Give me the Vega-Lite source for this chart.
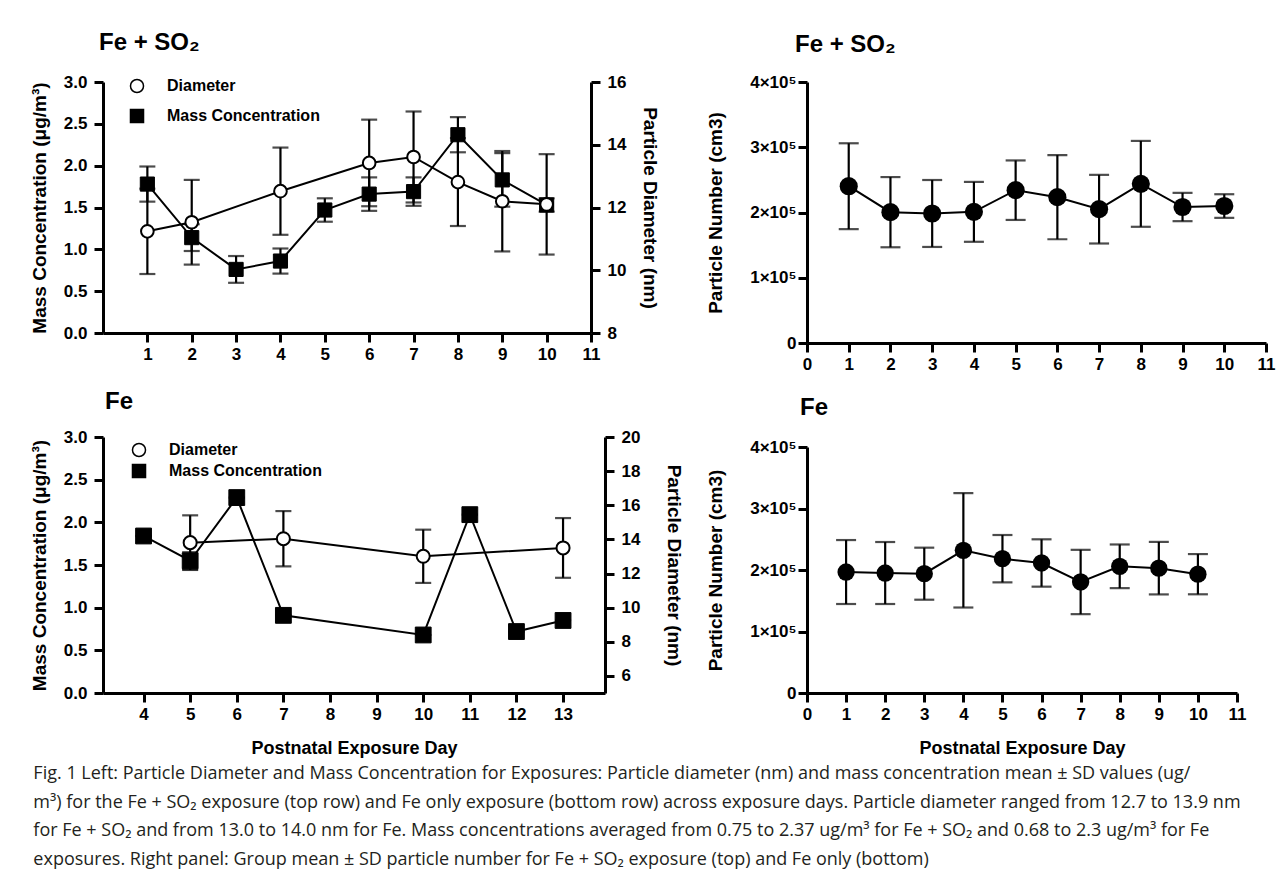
{
  "$schema": "https://vega.github.io/schema/vega-lite/v6.json",
  "background": "white",
  "padding": {"left": 30, "top": 31, "right": 5, "bottom": 0},
  "config": {
    "view": {"stroke": null},
    "axis": {
      "domainColor": "black", "domainWidth": 3, "tickColor": "black", "tickWidth": 3, "tickSize": 9,
      "labelFont": "Liberation Sans", "labelFontSize": 17, "labelFontWeight": "bold", "labelColor": "black",
      "labelPadding": 7, "labelFlush": false, "labelOverlap": false, "labelBound": false,
      "titleFont": "Liberation Sans", "titleFontSize": 19, "titleFontWeight": "bold", "titleColor": "black",
      "titlePadding": 14, "grid": false
    },
    "axisX": {"labelPadding": 4, "titlePadding": 17, "titleFontSize": 18}
  },
  "datasets": {
    "tl": [
      {"day": 1, "series": "Mass Concentration", "value": 1.78, "sd": 0.21},
      {"day": 2, "series": "Mass Concentration", "value": 1.14, "sd": 0.16},
      {"day": 3, "series": "Mass Concentration", "value": 0.76, "sd": 0.16},
      {"day": 4, "series": "Mass Concentration", "value": 0.86, "sd": 0.15},
      {"day": 5, "series": "Mass Concentration", "value": 1.47, "sd": 0.14},
      {"day": 6, "series": "Mass Concentration", "value": 1.66, "sd": 0.2},
      {"day": 7, "series": "Mass Concentration", "value": 1.69, "sd": 0.17},
      {"day": 8, "series": "Mass Concentration", "value": 2.37, "sd": 0.21},
      {"day": 9, "series": "Mass Concentration", "value": 1.83, "sd": 0.32},
      {"day": 10, "series": "Mass Concentration", "value": 1.53, "sd": 0.08},
      {"day": 1, "series": "Diameter", "value": 11.24, "sd": 1.36},
      {"day": 2, "series": "Diameter", "value": 11.53, "sd": 1.35},
      {"day": 4, "series": "Diameter", "value": 12.52, "sd": 1.39},
      {"day": 6, "series": "Diameter", "value": 13.42, "sd": 1.38},
      {"day": 7, "series": "Diameter", "value": 13.61, "sd": 1.45},
      {"day": 8, "series": "Diameter", "value": 12.81, "sd": 1.4},
      {"day": 9, "series": "Diameter", "value": 12.2, "sd": 1.6},
      {"day": 10, "series": "Diameter", "value": 12.1, "sd": 1.6}
    ],
    "bl": [
      {"day": 4, "series": "Mass Concentration", "value": 1.84, "sd": 0},
      {"day": 5, "series": "Mass Concentration", "value": 1.55, "sd": 0.1},
      {"day": 6, "series": "Mass Concentration", "value": 2.29, "sd": 0},
      {"day": 7, "series": "Mass Concentration", "value": 0.91, "sd": 0},
      {"day": 10, "series": "Mass Concentration", "value": 0.68, "sd": 0},
      {"day": 11, "series": "Mass Concentration", "value": 2.09, "sd": 0},
      {"day": 12, "series": "Mass Concentration", "value": 0.72, "sd": 0},
      {"day": 13, "series": "Mass Concentration", "value": 0.85, "sd": 0},
      {"day": 5, "series": "Diameter", "value": 13.81, "sd": 1.6},
      {"day": 7, "series": "Diameter", "value": 14.04, "sd": 1.62},
      {"day": 10, "series": "Diameter", "value": 13.01, "sd": 1.56},
      {"day": 13, "series": "Diameter", "value": 13.5, "sd": 1.75}
    ],
    "tr": [
      {"day": 1, "value": 240300, "sd": 65800},
      {"day": 2, "value": 200500, "sd": 53800},
      {"day": 3, "value": 198500, "sd": 51300},
      {"day": 4, "value": 201000, "sd": 45900},
      {"day": 5, "value": 234200, "sd": 45600},
      {"day": 6, "value": 223500, "sd": 64500},
      {"day": 7, "value": 205100, "sd": 52600},
      {"day": 8, "value": 243900, "sd": 65800},
      {"day": 9, "value": 208400, "sd": 21700},
      {"day": 10, "value": 209900, "sd": 18100}
    ],
    "br": [
      {"day": 1, "value": 196700, "sd": 52000},
      {"day": 2, "value": 195100, "sd": 50400},
      {"day": 3, "value": 194000, "sd": 42300},
      {"day": 4, "value": 232000, "sd": 93000},
      {"day": 5, "value": 218400, "sd": 38500},
      {"day": 6, "value": 211400, "sd": 38500},
      {"day": 7, "value": 180500, "sd": 52300},
      {"day": 8, "value": 206000, "sd": 35500},
      {"day": 9, "value": 203000, "sd": 42700},
      {"day": 10, "value": 193200, "sd": 32700}
    ]
  },
  "title": {
    "text": [
      "Fig. 1  Left: Particle Diameter and Mass Concentration for Exposures: Particle diameter (nm) and mass concentration mean ± SD values (ug/",
      "m³) for the Fe + SO₂ exposure (top row) and Fe only exposure (bottom row) across exposure days. Particle diameter ranged from 12.7 to 13.9 nm",
      "for Fe + SO₂ and from 13.0 to 14.0  nm for Fe. Mass concentrations averaged from 0.75 to 2.37 ug/m³ for Fe + SO₂ and 0.68 to 2.3 ug/m³ for Fe",
      "exposures. Right panel: Group mean ± SD particle number for Fe + SO₂ exposure (top) and Fe only (bottom)"
    ],
    "orient": "bottom", "anchor": "start", "frame": "bounds", "dx": 3, "offset": 8,
    "font": "Open Sans", "fontSize": 18, "fontWeight": "normal", "color": "#231f20", "lineHeight": 28.5
  },
  "spacing": 23,
  "hconcat": [
    {
      "spacing": 28,
      "resolve": {"scale": {"shape": "independent", "fill": "independent"}, "legend": {"shape": "independent", "fill": "independent"}},
      "vconcat": [
        {
          "width": 488, "height": 251,
          "title": {"text": "Fe + SO₂", "anchor": "start", "frame": "group", "dx": -4, "offset": 18, "font": "Liberation Sans", "fontSize": 24, "fontWeight": "bold", "color": "black"},
          "data": {"name": "tl"},
          "encoding": {
            "x": {"field": "day", "type": "quantitative", "scale": {"domain": [0, 11], "nice": false, "zero": false},
                  "axis": {"values": [1, 2, 3, 4, 5, 6, 7, 8, 9, 10, 11], "title": null}}
          },
          "layer": [
            {
              "transform": [{"filter": "datum.series === 'Mass Concentration'"}],
              "encoding": {
                "y": {"field": "value", "type": "quantitative", "scale": {"domain": [0, 3], "nice": false},
                      "axis": {"orient": "left", "values": [0, 0.5, 1, 1.5, 2, 2.5, 3], "format": ".1f", "title": "Mass Concentration  (μg/m³)"}}
              },
              "layer": [
                {"mark": {"type": "line", "color": "black", "strokeWidth": 2}},
                {"mark": {"type": "errorbar", "color": "black", "thickness": 2.2, "ticks": {"size": 16, "thickness": 2.2}}, "encoding": {"yError": {"field": "sd"}}},
                {"mark": {"type": "point", "filled": true, "opacity": 1, "size": 200, "stroke": "black", "strokeWidth": 1},
                 "encoding": {
                   "shape": {"field": "series", "type": "nominal", "scale": {"domain": ["Diameter", "Mass Concentration"], "range": ["circle", "square"]},
                             "legend": {"title": null, "orient": "none", "legendX": 26, "legendY": -4, "rowPadding": 10, "padding": 0, "symbolSize": 170, "labelFont": "Liberation Sans", "labelFontSize": 16, "labelFontWeight": "bold", "labelColor": "black", "labelOffset": 22,
                                        "encode": {"symbols": {"update": {"stroke": {"value": "black"}, "strokeWidth": {"value": 2}}}}}},
                   "fill": {"field": "series", "type": "nominal", "scale": {"domain": ["Diameter", "Mass Concentration"], "range": ["white", "black"]},
                             "legend": {"title": null, "orient": "none", "legendX": 26, "legendY": -4, "rowPadding": 10, "padding": 0, "symbolSize": 170, "labelFont": "Liberation Sans", "labelFontSize": 16, "labelFontWeight": "bold", "labelColor": "black", "labelOffset": 22,
                                        "encode": {"symbols": {"update": {"stroke": {"value": "black"}, "strokeWidth": {"value": 2}}}}}}
                 }}
              ]
            },
            {
              "transform": [{"filter": "datum.series === 'Diameter'"}],
              "encoding": {
                "y": {"field": "value", "type": "quantitative", "scale": {"domain": [8, 16], "nice": false, "zero": false},
                      "axis": {"orient": "right", "values": [8, 10, 12, 14, 16], "title": "Particle Diameter  (nm)"}}
              },
              "layer": [
                {"mark": {"type": "line", "color": "black", "strokeWidth": 2}},
                {"mark": {"type": "errorbar", "color": "black", "thickness": 2.2, "ticks": {"size": 16, "thickness": 2.2}}, "encoding": {"yError": {"field": "sd"}}},
                {"mark": {"type": "point", "filled": true, "opacity": 1, "size": 160, "stroke": "black", "strokeWidth": 2},
                 "encoding": {
                   "shape": {"field": "series", "type": "nominal", "scale": {"domain": ["Diameter", "Mass Concentration"], "range": ["circle", "square"]}},
                   "fill": {"field": "series", "type": "nominal", "scale": {"domain": ["Diameter", "Mass Concentration"], "range": ["white", "black"]}}
                 }}
              ]
            }
          ],
          "resolve": {"scale": {"y": "independent"}}
        },
        {
          "width": 502, "height": 256,
          "title": {"text": "Fe", "anchor": "start", "frame": "group", "dx": 2, "offset": 14, "font": "Liberation Sans", "fontSize": 24, "fontWeight": "bold", "color": "black"},
          "data": {"name": "bl"},
          "encoding": {
            "x": {"field": "day", "type": "quantitative", "scale": {"domain": [3.13, 13.9], "nice": false, "zero": false},
                  "axis": {"values": [4, 5, 6, 7, 8, 9, 10, 11, 12, 13], "title": "Postnatal Exposure Day"}}
          },
          "layer": [
            {
              "transform": [{"filter": "datum.series === 'Diameter'"}],
              "encoding": {
                "y": {"field": "value", "type": "quantitative", "scale": {"domain": [5, 20], "nice": false, "zero": false},
                      "axis": {"orient": "right", "values": [6, 8, 10, 12, 14, 16, 18, 20], "titlePadding": 24, "title": "Particle Diameter  (nm)"}}
              },
              "layer": [
                {"mark": {"type": "line", "color": "black", "strokeWidth": 2}},
                {"mark": {"type": "errorbar", "color": "black", "thickness": 2.2, "ticks": {"size": 16, "thickness": 2.2}}, "encoding": {"yError": {"field": "sd"}}},
                {"mark": {"type": "point", "filled": true, "opacity": 1, "size": 170, "stroke": "black", "strokeWidth": 2},
                 "encoding": {
                   "shape": {"field": "series", "type": "nominal", "scale": {"domain": ["Diameter", "Mass Concentration"], "range": ["circle", "square"]},
                             "legend": {"title": null, "orient": "none", "legendX": 28, "legendY": 5, "rowPadding": 1, "padding": 0, "symbolSize": 170, "labelFont": "Liberation Sans", "labelFontSize": 16, "labelFontWeight": "bold", "labelColor": "black", "labelOffset": 22,
                                        "encode": {"symbols": {"update": {"stroke": {"value": "black"}, "strokeWidth": {"value": 2}}}}}},
                   "fill": {"field": "series", "type": "nominal", "scale": {"domain": ["Diameter", "Mass Concentration"], "range": ["white", "black"]},
                             "legend": {"title": null, "orient": "none", "legendX": 28, "legendY": 5, "rowPadding": 1, "padding": 0, "symbolSize": 170, "labelFont": "Liberation Sans", "labelFontSize": 16, "labelFontWeight": "bold", "labelColor": "black", "labelOffset": 22,
                                        "encode": {"symbols": {"update": {"stroke": {"value": "black"}, "strokeWidth": {"value": 2}}}}}}
                 }}
              ]
            },
            {
              "transform": [{"filter": "datum.series === 'Mass Concentration'"}],
              "encoding": {
                "y": {"field": "value", "type": "quantitative", "scale": {"domain": [0, 3], "nice": false},
                      "axis": {"orient": "left", "values": [0, 0.5, 1, 1.5, 2, 2.5, 3], "format": ".1f", "title": "Mass Concentration  (μg/m³)"}}
              },
              "layer": [
                {"mark": {"type": "line", "color": "black", "strokeWidth": 2}},
                {"mark": {"type": "errorbar", "color": "black", "thickness": 2.2, "ticks": {"size": 16, "thickness": 2.2}}, "encoding": {"yError": {"field": "sd"}}},
                {"mark": {"type": "point", "filled": true, "opacity": 1, "size": 250, "stroke": "black", "strokeWidth": 1},
                 "encoding": {
                   "shape": {"field": "series", "type": "nominal", "scale": {"domain": ["Diameter", "Mass Concentration"], "range": ["circle", "square"]}},
                   "fill": {"field": "series", "type": "nominal", "scale": {"domain": ["Diameter", "Mass Concentration"], "range": ["white", "black"]}}
                 }}
              ]
            }
          ],
          "resolve": {"scale": {"y": "independent"}}
        }
      ]
    },
    {
      "spacing": 24,
      "vconcat": [
        {
          "width": 459, "height": 261,
          "title": {"text": "Fe + SO₂", "anchor": "start", "frame": "group", "dx": -12, "offset": 16, "font": "Liberation Sans", "fontSize": 24, "fontWeight": "bold", "color": "black"},
          "data": {"name": "tr"},
          "encoding": {
            "x": {"field": "day", "type": "quantitative", "scale": {"domain": [0, 11], "nice": false, "zero": false},
                  "axis": {"values": [0, 1, 2, 3, 4, 5, 6, 7, 8, 9, 10, 11], "title": null}},
            "y": {"field": "value", "type": "quantitative", "scale": {"domain": [0, 400000], "nice": false},
                  "axis": {"values": [0, 100000, 200000, 300000, 400000], "labelPadding": 2, "titlePadding": 24,
                           "labelExpr": "datum.value === 0 ? '0' : format(datum.value / 100000, 'd') + '×10⁵'",
                           "title": "Particle Number (cm3)"}}
          },
          "layer": [
            {"mark": {"type": "line", "color": "black", "strokeWidth": 2}},
            {"mark": {"type": "errorbar", "color": "black", "thickness": 2.2, "ticks": {"size": 20, "thickness": 2.2}}, "encoding": {"yError": {"field": "sd"}}},
            {"mark": {"type": "point", "filled": true, "opacity": 1, "size": 330, "color": "black"}}
          ]
        },
        {
          "width": 430, "height": 246,
          "title": {"text": "Fe", "anchor": "start", "frame": "group", "dx": -7, "offset": 18, "font": "Liberation Sans", "fontSize": 24, "fontWeight": "bold", "color": "black"},
          "data": {"name": "br"},
          "encoding": {
            "x": {"field": "day", "type": "quantitative", "scale": {"domain": [0, 11], "nice": false, "zero": false},
                  "axis": {"values": [0, 1, 2, 3, 4, 5, 6, 7, 8, 9, 10, 11], "title": "Postnatal Exposure Day"}},
            "y": {"field": "value", "type": "quantitative", "scale": {"domain": [0, 400000], "nice": false},
                  "axis": {"values": [0, 100000, 200000, 300000, 400000], "labelPadding": 2, "titlePadding": 24,
                           "labelExpr": "datum.value === 0 ? '0' : format(datum.value / 100000, 'd') + '×10⁵'",
                           "title": "Particle Number (cm3)"}}
          },
          "layer": [
            {"mark": {"type": "line", "color": "black", "strokeWidth": 2}},
            {"mark": {"type": "errorbar", "color": "black", "thickness": 2.2, "ticks": {"size": 20, "thickness": 2.2}}, "encoding": {"yError": {"field": "sd"}}},
            {"mark": {"type": "point", "filled": true, "opacity": 1, "size": 300, "color": "black"}}
          ]
        }
      ]
    }
  ]
}
